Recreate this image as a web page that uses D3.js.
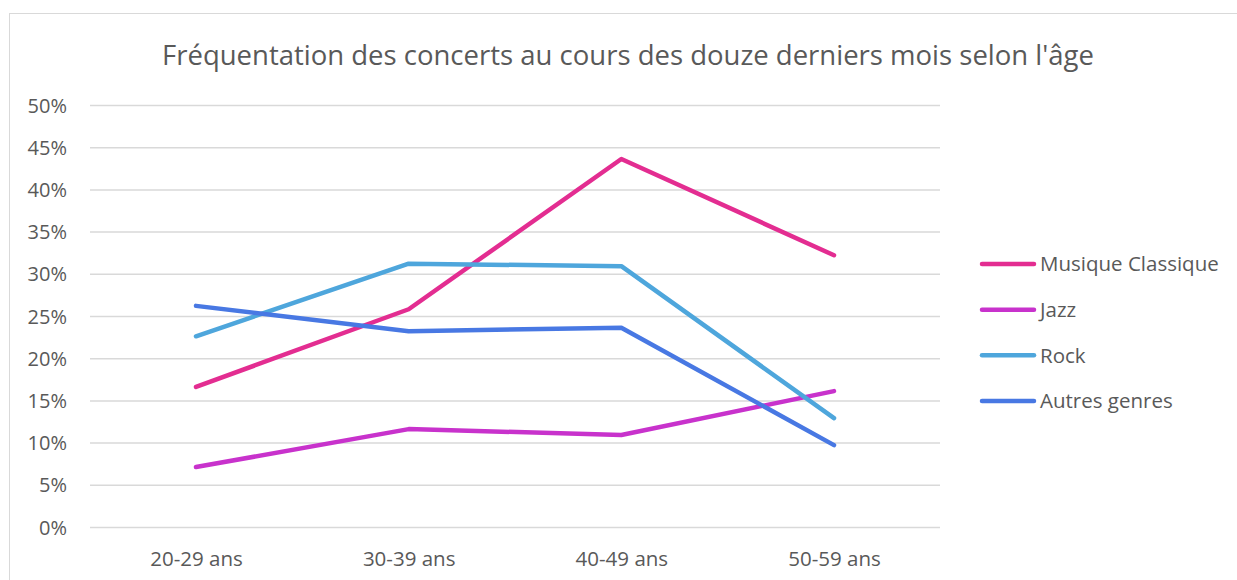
<!DOCTYPE html>
<html><head><meta charset="utf-8">
<script src="https://cdn.jsdelivr.net/npm/d3@7"></script>
<style>body{margin:0;background:#fff}svg{display:block}</style>
</head><body>
<svg id="c" width="1237" height="580"></svg>
<script>
const categories = ["20-29 ans","30-39 ans","40-49 ans","50-59 ans"];
const seriesNames = ["Musique Classique","Jazz","Rock","Autres genres"];
const classique = [16.6, 25.8, 43.6, 32.2];
const jazz = [7.1, 11.6, 10.9, 16.1];
const rock = [22.6, 31.2, 30.9, 12.9];
const autres = [26.2, 23.2, 23.6, 9.7];
const yTicks = [0,5,10,15,20,25,30,35,40,45,50];
const colors = ["#e32d91","#c832cc","#4ea6dc","#4878e3"];
const title = "Fréquentation des concerts au cours des douze derniers mois selon l'âge";

const series = [classique, jazz, rock, autres];
const svg = d3.select("#c");
const font = "'Open Sans', sans-serif";
const txt = "#595959";

svg.append("rect").attr("x",9.5).attr("y",13.5).attr("width",1240).attr("height",600)
  .attr("fill","#fff").attr("stroke","#d9d9d9").attr("stroke-width",1);

svg.append("text").attr("x",628).attr("y",65).attr("text-anchor","middle")
  .attr("font-family",font).attr("font-size",27.5).attr("fill",txt).text(title);

const x = d3.scalePoint().domain(categories).range([196,834]);
const y = d3.scaleLinear().domain([0,50]).range([527,105]);

const gy = svg.append("g").attr("transform","translate(90,0)")
  .call(d3.axisLeft(y).tickValues(yTicks).tickSize(-850).tickFormat(d=>d+"%").tickPadding(23));
gy.select(".domain").remove();
gy.selectAll("line").attr("stroke","#d9d9d9").attr("stroke-width",1.5);
gy.selectAll("text").attr("font-family",font).attr("font-size",20).attr("fill",txt).attr("dy","0.35em");

const gx = svg.append("g").attr("transform","translate(0,527)")
  .call(d3.axisBottom(x).tickSize(0).tickPadding(24));
gx.select(".domain").remove();
gx.selectAll("text").attr("font-family",font).attr("font-size",20.5).attr("fill",txt);

const line = d3.line().x((d,i)=>x(categories[i])).y(d=>y(d));
series.forEach((s,k)=>{
  svg.append("path").attr("d",line(s)).attr("fill","none").attr("stroke",colors[k])
    .attr("stroke-width",4.5).attr("stroke-linecap","round").attr("stroke-linejoin","round");
});

const leg = d3.scalePoint().domain(seriesNames).range([264,401]);
seriesNames.forEach((n,k)=>{
  const yy = leg(n);
  svg.append("line").attr("x1",982).attr("x2",1034).attr("y1",yy).attr("y2",yy)
    .attr("stroke",colors[k]).attr("stroke-width",4.5).attr("stroke-linecap","round");
  svg.append("text").attr("x",1040).attr("y",yy).attr("dy","0.35em")
    .attr("font-family",font).attr("font-size",20.5).attr("fill",txt).text(n);
});
</script>
</body></html>
